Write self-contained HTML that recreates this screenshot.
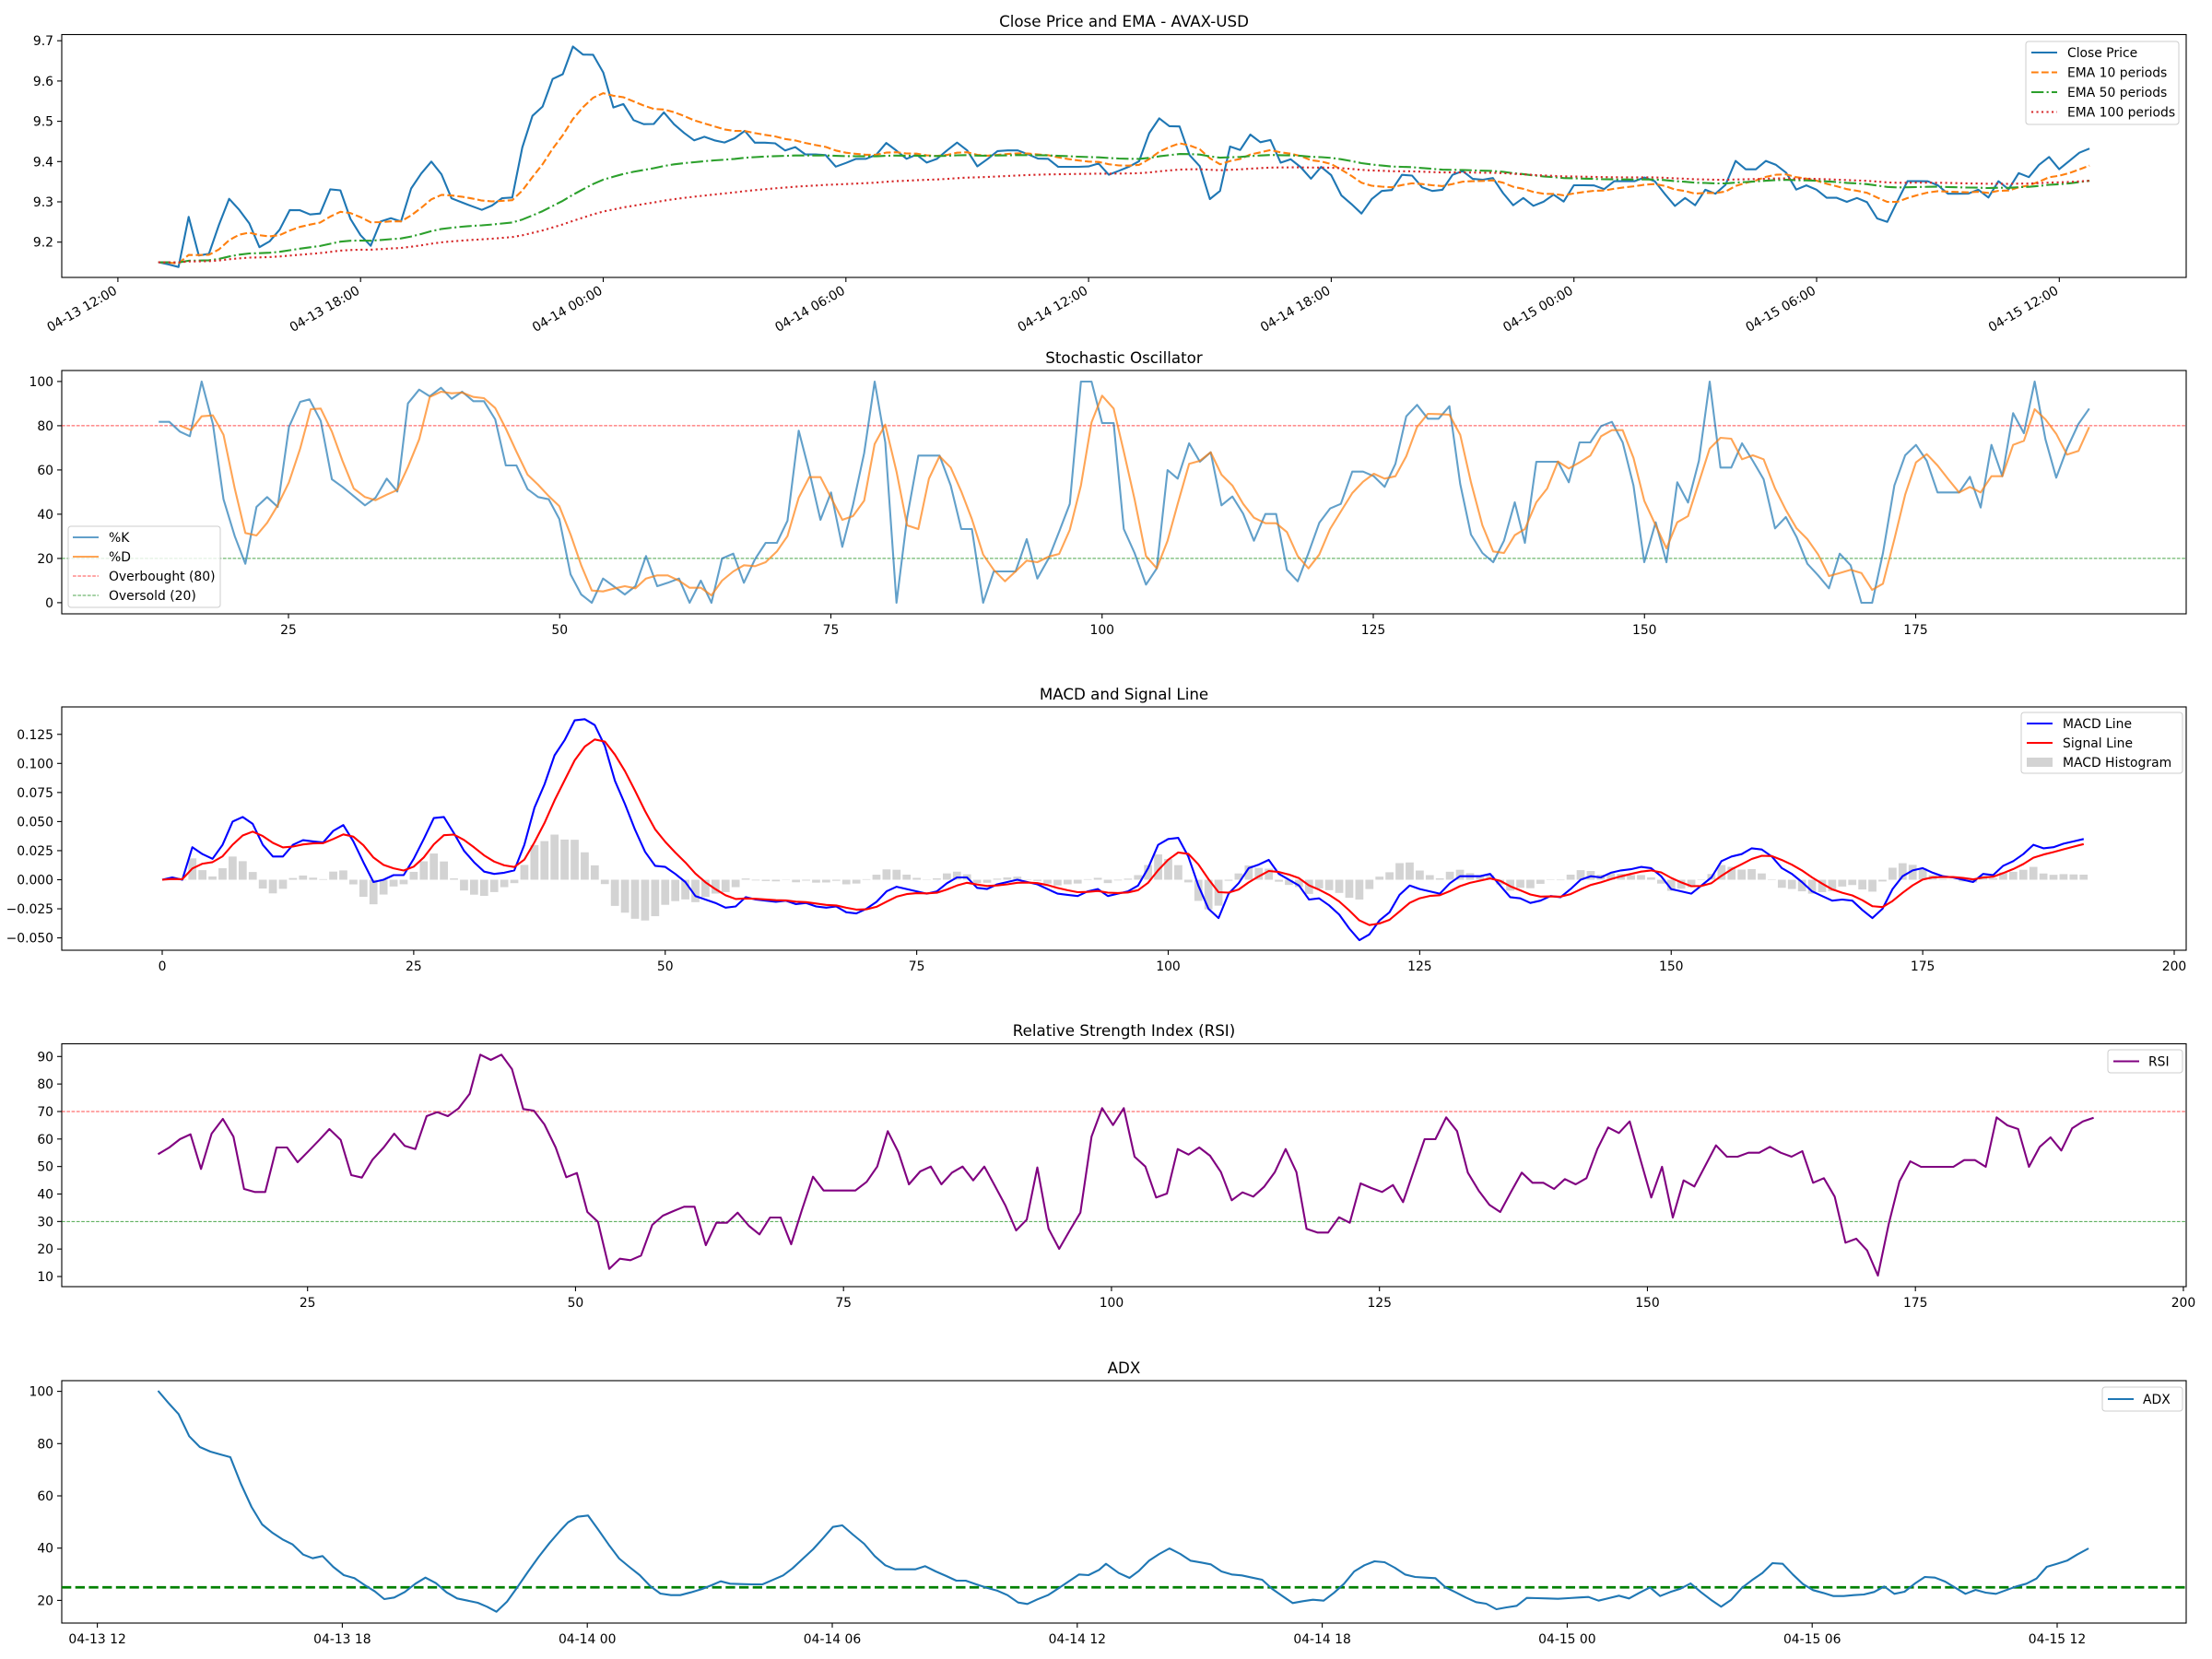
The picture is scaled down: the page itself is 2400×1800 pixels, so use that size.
<!DOCTYPE html>
<html><head><meta charset="utf-8">
<style>
html,body{margin:0;padding:0;background:#fff;}
svg{display:block;font-family:"DejaVu Sans","Liberation Sans",sans-serif;}
</style></head>
<body>
<svg id="s" width="2400" height="1800" viewBox="0 0 2400 1800" xmlns="http://www.w3.org/2000/svg">
<rect width="2400" height="1800" fill="#fff"/>
<g id="g"></g>
<text x="1219.5" y="29" font-size="16.7" text-anchor="middle">Close Price and EMA - AVAX-USD</text>
<text x="1219.5" y="394" font-size="16.7" text-anchor="middle">Stochastic Oscillator</text>
<text x="1219.5" y="759" font-size="16.7" text-anchor="middle">MACD and Signal Line</text>
<text x="1219.5" y="1124" font-size="16.7" text-anchor="middle">Relative Strength Index (RSI)</text>
<text x="1219.5" y="1490" font-size="16.7" text-anchor="middle">ADX</text>
</svg>
<script>
(function(){
var g=document.getElementById('g');var NS='http://www.w3.org/2000/svg';
function el(t,a,txt){var e=document.createElementNS(NS,t);for(var k in a)e.setAttribute(k,a[k]);if(txt!==undefined)e.textContent=txt;g.appendChild(e);return e;}
function pl(pts,c,w,dash,op){var d=pts.map(function(p){return p[0].toFixed(1)+','+p[1].toFixed(1)}).join(' ');var a={points:d,fill:'none',stroke:c,'stroke-width':w,'stroke-linejoin':'round'};if(dash)a['stroke-dasharray']=dash;if(op)a['stroke-opacity']=op;el('polyline',a);}
var L=67,R=2372;
var P=[[37.5,301],[402,666],[767,1031],[1132.5,1396],[1498,1761]];
function ytick(y,lab){el('line',{x1:L-5,x2:L,y1:y,y2:y,stroke:'#000','stroke-width':1.1});el('text',{x:L-9,y:y+5,'font-size':13.9,'text-anchor':'end'},lab);}
function xtick(x,yb,lab){el('line',{x1:x,x2:x,y1:yb,y2:yb+5,stroke:'#000','stroke-width':1.1});el('text',{x:x,y:yb+22,'font-size':13.9,'text-anchor':'middle'},lab);}
function frame(k){el('rect',{x:L,y:P[k][0],width:R-L,height:P[k][1]-P[k][0],fill:'none',stroke:'#000','stroke-width':1.1});}
function hline(y,c,w,dash,op){el('line',{x1:L,x2:R,y1:y,y2:y,stroke:c,'stroke-width':w,'stroke-dasharray':dash,'stroke-opacity':op||1});}
function conv(a,fx,fy){return a.map(function(p){return [fx(p[0]),fy(p[1])];});}
function interp(pts,x){if(x<=pts[0][0])return pts[0][1];for(var i=1;i<pts.length;i++){if(pts[i][0]>=x){var a=pts[i-1],b=pts[i];return a[1]+(b[1]-a[1])*(x-a[0])/(b[0]-a[0]);}}return pts[pts.length-1][1];}
function ema(arr,span){var al=2/(span+1),o=[arr[0]];for(var i=1;i<arr.length;i++)o.push(al*arr[i]+(1-al)*o[i-1]);return o;}

var z1=[[336,853],[357,842],[378,866],[400,684],[421,815],[443,815],[465,720],[486,632],[508,668],[529,708],[551,789],[572,772],[594,735],[615,670],[637,670],[658,684],[680,684],[701,604],[723,604],[744,695],[766,749],[787,789],[808,707],[830,695],[852,710],[873,604],[895,555],[916,513],[938,553],[959,632],[981,645],[1002,657],[1024,670],[1045,657],[1067,632],[1089,632],[1110,474],[1132,370],[1153,343],[1175,252],[1196,240],[1218,148],[1239,174],[1261,174],[1282,227],[1304,343],[1325,330],[1347,383],[1368,396],[1390,396],[1411,357],[1433,396],[1454,423],[1476,448],[1497,436],[1519,448],[1541,461],[1562,448]];
var z6=[[0,360],[12,372],[30,360],[52,333],[72,372],[112,372],[135,398],[153,384],[175,410],[215,410],[237,450],[258,437],[278,424],[300,424],[320,410],[340,371],[360,398],[380,424],[400,410],[420,437],[442,424],[462,397],[483,371],[503,397],[524,450],[545,424],[566,397],[606,397],[627,410],[647,424],[667,424],[687,450],[747,450],[768,437],[790,476],[810,463],[830,450],[850,437],[870,345],[892,293],[913,319],[933,319],[952,410],[972,437],[994,555],[1015,528],[1035,384],[1055,398],[1076,345],[1096,371],[1116,358],[1137,437],[1157,424],[1178,450],[1199,489],[1220,450],[1240,476],[1260,541],[1280,568],[1300,605],[1322,555],[1342,528],[1362,528],[1383,476],[1403,476],[1423,515],[1444,528],[1464,528],[1486,476],[1506,463],[1526,489],[1546,489],[1568,476]];
var z2=[[0,578],[20,578],[38,566],[60,615],[80,657],[103,631],[124,657],[146,644],[167,620],[189,644],[210,591],[253,591],[274,605],[296,578],[340,578],[361,566],[383,578],[404,618],[426,657],[447,631],[468,657],[490,605],[512,618],[533,591],[555,513],[576,540],[598,540],[619,513],[641,526],[662,550],[684,605],[705,591],[727,605],[748,631],[770,631],[791,644],[812,631],[834,644],[856,697],[877,709],[920,578],[963,578],[985,591],[1006,618],[1049,618],[1071,605],[1092,631],[1114,578],[1135,605],[1157,552],[1178,566],[1200,526],[1221,500],[1243,540],[1265,513],[1286,487],[1307,474]];
var a1=conv(z1,function(x){return x/1.96},function(y){return y/2.94});
var a6=conv(z6,function(x){return 780+x/1.867},function(y){return 30+y/2.98});
var a2=conv(z2,function(x){return 1600+x/1.96},function(y){return y/2.94});
var cp=a1.filter(function(p){return p[0]<780}).concat(a6.filter(function(p){return p[0]>=780&&p[0]<1610})).concat(a2.filter(function(p){return p[0]>=1610}));
var N=192,close=[];
function X1(i){return 171.8+10.97*i;}
function Y1(v){return 44.2+(9.7-v)*437;}
for(var i=0;i<N;i++){var y=interp(cp,X1(i));close.push(9.7-(y-44.2)/437);}
close[0]=9.15;
var e10=ema(close,10),e50=ema(close,50),e100=ema(close,100);
function ser(arr,X,Y){return arr.map(function(v,i){return [X(i),Y(v)]});}
frame(0);
[9.2,9.3,9.4,9.5,9.6,9.7].forEach(function(v){ytick(Y1(v),v.toFixed(1));});
var dl=["04-13 12:00","04-13 18:00","04-14 00:00","04-14 06:00","04-14 12:00","04-14 18:00","04-15 00:00","04-15 06:00","04-15 12:00"];
dl.forEach(function(l,k){var x=127.9+k*263.3;el('line',{x1:x,x2:x,y1:301,y2:306,stroke:'#000','stroke-width':1.1});el('text',{x:x,y:318,'font-size':13.9,'text-anchor':'end',transform:'rotate(-30 '+x+' 318)'},l);});
pl(ser(close,X1,Y1),'#1f77b4',2.1);
pl(ser(e10,X1,Y1),'#ff7f0e',2.1,'7.7,3.3');
pl(ser(e50,X1,Y1),'#2ca02c',2.1,'13.3,3.3,2.1,3.3');
pl(ser(e100,X1,Y1),'#d62728',2.1,'2.1,3.4');
el('rect',{x:2198,y:45,width:166,height:90,fill:'#fff','fill-opacity':0.8,stroke:'#ccc','stroke-width':1,rx:3});
var lg1=[['Close Price','#1f77b4',null],['EMA 10 periods','#ff7f0e','7.7,3.3'],['EMA 50 periods','#2ca02c','13.3,3.3,2.1,3.3'],['EMA 100 periods','#d62728','2.1,3.4']];
lg1.forEach(function(e,k){var y=57+k*21.5;var a={x1:2204,x2:2232,y1:y,y2:y,stroke:e[1],'stroke-width':2.1};if(e[2])a['stroke-dasharray']=e[2];el('line',a);el('text',{x:2243,y:y+5,'font-size':13.9},e[0]);});

frame(1);
function Y2(v){return 653.9-2.4*v;}
[0,20,40,60,80,100].forEach(function(v){ytick(Y2(v),''+v);});
[25,50,75,100,125,150,175].forEach(function(t){xtick(313+(t-25)*11.77,666,''+t);});
hline(Y2(80),'#ff0000',1,'3.7,1.6',0.7);hline(Y2(20),'#008000',1,'3.7,1.6',0.7);
var k7=[[18,173],[35,173],[52,205],[68,220],[87,42],[105,180],[122,425],[140,545],[157,635],[175,450],[192,418],[209,450],[227,190],[245,108],[260,100],[278,170],[296,360],[313,385],[331,415],[349,445],[366,420],[384,358],[401,400],[418,113],[436,68],[453,90],[471,62],[488,98],[505,75],[523,106],[540,106],[558,165],[575,315],[592,315],[610,392],[627,418],[644,425],[661,490],[679,670],[696,735],[713,762],[731,683],[748,708],[766,735],[783,708],[800,610],[818,708],[835,697],[853,683],[870,762],[888,690],[905,762],[922,618],[940,602],[957,697],[975,620],[992,567],[1010,567],[1027,495],[1045,202],[1062,335],[1080,492],[1097,403],[1115,580],[1132,445],[1150,275],[1167,42],[1184,240],[1202,762],[1219,485],[1237,283],[1254,283],[1271,283],[1289,380],[1306,522],[1323,522],[1341,762],[1358,660],[1376,660],[1393,660],[1411,555],[1428,683],[1446,618],[1463,530],[1480,440],[1498,42],[1515,42],[1532,177]];
var k8=[[12,177],[28,522],[45,600],[63,703],[80,650],[97,330],[113,358],[131,243],[148,303],[165,272],[182,445],[199,416],[216,472],[233,560],[251,473],[268,473],[285,655],[302,692],[319,600],[336,502],[353,455],[370,440],[388,335],[405,335],[422,350],[439,385],[456,310],[473,155],[490,118],[507,163],[524,163],[541,122],[558,375],[575,540],[593,600],[610,630],[627,560],[644,435],[660,567],[678,303],[695,303],[712,303],[729,370],[746,240],[763,240],[780,187],[797,173],[814,240],[831,380],[848,630],[866,500],[883,630],[900,370],[917,436],[934,300],[951,42],[968,322],[985,322],[1002,243],[1019,300],[1036,360],[1054,520],[1071,483],[1088,548],[1105,635],[1122,673],[1139,715],[1156,602],[1173,640],[1190,762],[1207,762],[1224,600],[1242,380],[1259,282],[1276,248],[1293,300],[1310,403],[1327,403],[1344,403],[1361,352],[1378,452],[1395,248],[1412,350],[1429,145],[1446,210],[1463,42],[1480,230],[1497,355],[1514,260],[1532,180],[1549,130]];
var d7=[[52,185],[70,200],[87,155],[105,152],[122,215],[140,390],[157,535],[175,543],[192,502],[209,445],[227,370],[245,260],[262,132],[278,130],[296,205],[313,300],[331,390],[349,418],[366,428],[384,410],[401,395],[418,320],[436,230],[453,92],[471,75],[488,80],[505,78],[523,92],[540,96],[558,128],[575,195],[592,270],[610,345],[627,378],[644,415],[661,448],[679,540],[696,640],[713,722],[731,725],[748,716],[766,708],[783,715],[800,683],[818,673],[835,673],[853,690],[870,713],[888,713],[905,738],[922,690],[940,660],[957,640],[975,643],[992,630],[1010,595],[1027,545],[1045,420],[1062,353],[1080,353],[1097,420],[1115,492],[1132,480],[1150,430],[1167,245],[1184,182],[1202,335],[1219,510],[1237,522],[1254,358],[1271,285],[1289,322],[1306,400],[1323,490],[1341,605],[1358,655],[1376,692],[1393,660],[1411,625],[1428,630],[1446,612],[1463,603],[1480,525],[1498,380],[1515,175],[1532,88]];
var d8=[[12,130],[28,270],[45,425],[63,610],[80,650],[97,560],[113,440],[131,310],[148,300],[165,272],[182,345],[199,380],[216,440],[233,485],[251,503],[268,503],[285,532],[302,610],[319,650],[336,605],[353,522],[370,465],[388,405],[405,368],[422,342],[439,358],[456,350],[473,285],[490,190],[507,147],[524,148],[541,150],[558,215],[575,370],[593,510],[610,595],[627,600],[644,542],[660,522],[678,435],[695,390],[712,302],[729,325],[746,305],[763,283],[780,220],[797,200],[814,200],[831,290],[848,430],[866,510],[883,585],[900,500],[917,480],[934,370],[951,260],[968,225],[985,228],[1002,295],[1019,282],[1036,295],[1054,390],[1071,460],[1088,520],[1105,555],[1122,605],[1139,675],[1156,665],[1173,655],[1190,665],[1207,720],[1224,700],[1242,555],[1259,410],[1276,305],[1293,278],[1310,315],[1327,360],[1344,403],[1361,385],[1378,403],[1395,350],[1412,350],[1429,248],[1446,235],[1463,132],[1480,165],[1497,212],[1514,280],[1532,268],[1549,190]];
function c7(a){return conv(a,function(x){return 160+x/1.479},function(y){return 400+y/3});}
function c8(a){return conv(a,function(x){return 1200+x/1.452},function(y){return 400+y/3});}
pl(c7(k7).concat(c8(k8)),'#1f77b4',2.1,null,0.7);
pl(c7(d7).concat(c8(d8)),'#ff7f0e',2.1,null,0.7);
el('rect',{x:74,y:571,width:165,height:88,fill:'#fff','fill-opacity':0.8,stroke:'#ccc','stroke-width':1,rx:3});
var lg2=[['%K','#1f77b4',2.1,null,0.7],['%D','#ff7f0e',2.1,null,0.7],['Overbought (80)','#ff0000',1,'3.7,1.6',0.7],['Oversold (20)','#008000',1,'3.7,1.6',0.7]];
lg2.forEach(function(e,k){var y=583+k*21;var a={x1:79,x2:107,y1:y,y2:y,stroke:e[1],'stroke-width':e[2],'stroke-opacity':e[4]};if(e[3])a['stroke-dasharray']=e[3];el('line',a);el('text',{x:118,y:y+5,'font-size':13.9},e[0]);});

frame(2);
function X3(i){return 176+10.915*i;}
function Y3(v){return 954.5-1262*v;}
[-0.05,-0.025,0,0.025,0.05,0.075,0.1,0.125].forEach(function(v){ytick(Y3(v),(v<0?'\u22120':'0')+'.'+Math.abs(v).toFixed(3).split('.')[1]);});
[0,25,50,75,100,125,150,175,200].forEach(function(t){xtick(X3(t),1031,''+t);});
var macd=[0,0.002,0,0.028,0.022,0.018,0.03,0.05,0.054,0.048,0.03,0.02,0.02,0.03,0.034,0.033,0.032,0.042,0.047,0.033,0.015,-0.002,0,0.004,0.004,0.018,0.035,0.053,0.054,0.04,0.025,0.015,0.007,0.005,0.006,0.008,0.03,0.062,0.082,0.107,0.12,0.137,0.138,0.133,0.115,0.085,0.065,0.043,0.024,0.012,0.011,0.005,-0.002,-0.014,-0.017,-0.02,-0.024,-0.023,-0.015,-0.017,-0.018,-0.019,-0.018,-0.021,-0.02,-0.023,-0.024,-0.023,-0.028,-0.029,-0.025,-0.019,-0.01,-0.006,-0.008,-0.01,-0.012,-0.01,-0.003,0.002,0.002,-0.007,-0.008,-0.004,-0.002,0,-0.002,-0.004,-0.008,-0.012,-0.013,-0.014,-0.01,-0.008,-0.014,-0.012,-0.01,-0.005,0.01,0.03,0.035,0.036,0.02,-0.005,-0.025,-0.033,-0.012,-0.003,0.01,0.013,0.017,0.005,0,-0.005,-0.017,-0.016,-0.022,-0.03,-0.042,-0.052,-0.047,-0.035,-0.028,-0.013,-0.005,-0.008,-0.01,-0.012,-0.003,0.003,0.003,0.003,0.005,-0.005,-0.015,-0.016,-0.02,-0.018,-0.014,-0.015,-0.008,0,0.003,0.002,0.006,0.008,0.009,0.011,0.01,0.003,-0.008,-0.01,-0.012,-0.005,0.002,0.016,0.02,0.022,0.027,0.026,0.02,0.01,0.005,-0.002,-0.01,-0.014,-0.018,-0.017,-0.018,-0.026,-0.033,-0.025,-0.008,0.003,0.008,0.01,0.006,0.003,0.002,0,-0.002,0.005,0.004,0.012,0.016,0.022,0.03,0.027,0.028,0.031,0.033,0.035];
var sig=ema(macd,5);
for(var i=0;i<macd.length;i++){var h=macd[i]-sig[i];var y0=Y3(0),y1=Y3(h);el('rect',{x:X3(i-0.4),y:Math.min(y0,y1),width:0.8*10.915,height:Math.abs(y1-y0),fill:'#d3d3d3'});}
pl(ser(macd,X3,Y3),'#0000ff',2.1);
pl(ser(sig,X3,Y3),'#ff0000',2.1);
el('rect',{x:2193,y:773,width:175,height:66,fill:'#fff','fill-opacity':0.8,stroke:'#ccc','stroke-width':1,rx:3});
el('line',{x1:2199,x2:2227,y1:785,y2:785,stroke:'#0000ff','stroke-width':2.1});el('text',{x:2238,y:790,'font-size':13.9},'MACD Line');
el('line',{x1:2199,x2:2227,y1:806,y2:806,stroke:'#ff0000','stroke-width':2.1});el('text',{x:2238,y:811,'font-size':13.9},'Signal Line');
el('rect',{x:2199,y:822,width:28,height:10,fill:'#d3d3d3'});el('text',{x:2238,y:832,'font-size':13.9},'MACD Histogram');

frame(3);
function Y4(v){return 1146.3+(90-v)*2.984;}
[10,20,30,40,50,60,70,80,90].forEach(function(v){ytick(Y4(v),''+v);});
[25,50,75,100,125,150,175,200].forEach(function(t){xtick(333.7+(t-25)*11.63,1396,''+t);});
hline(Y4(70),'#ff0000',1,'3.7,1.6',0.7);hline(Y4(30),'#008000',1,'3.7,1.6',0.7);
var r9=[[17,352],[35,330],[52,303],[69,287],[86,400],[103,285],[121,237],[138,295],[155,465],[172,475],[189,475],[207,330],[224,330],[241,378],[258,343],[276,305],[292,270],[310,305],[327,420],[344,428],[361,370],[379,330],[396,285],[413,325],[430,335],[448,228],[465,215],[482,228],[499,203],[517,155],[534,28],[551,45],[568,28],[585,75],[603,205],[620,210],[637,255],[655,330],[672,427],[689,413],[706,540],[723,572],[741,725],[758,692],[775,697],[792,682],[810,582],[827,552],[844,537],[861,523],[878,523],[896,648],[913,575],[930,575],[947,542],[965,585],[982,613],[999,558],[1016,558],[1033,645],[1050,535],[1068,425],[1085,470],[1102,470],[1119,470],[1136,470],[1154,442],[1171,392],[1188,277],[1205,345],[1222,450],[1240,408],[1257,392],[1274,450],[1291,412],[1308,392],[1325,437],[1343,392],[1360,455],[1377,520],[1394,600],[1411,565],[1428,395],[1446,595],[1463,660],[1480,600],[1497,542],[1515,295],[1532,202]];
var r10=[[11,257],[28,202],[45,360],[62,392],[79,493],[96,480],[113,335],[130,353],[147,330],[164,357],[181,410],[198,502],[215,476],[232,490],[249,458],[266,410],[283,335],[300,410],[316,595],[333,607],[350,607],[367,557],[384,575],[401,447],[418,462],[435,475],[452,452],[468,508],[485,405],[502,303],[519,303],[536,232],[553,277],[570,412],[587,470],[604,517],[621,540],[638,475],[655,412],[672,445],[689,445],[706,465],[723,433],[740,450],[757,430],[774,335],[791,265],[808,283],[825,245],[842,370],[859,493],[876,393],[893,558],[910,437],[927,457],[944,390],[961,323],[978,360],[995,360],[1012,347],[1029,347],[1046,328],[1063,347],[1080,360],[1097,342],[1114,445],[1131,430],[1148,490],[1165,640],[1182,627],[1199,665],[1216,747],[1233,580],[1250,440],[1267,375],[1284,393],[1301,393],[1318,393],[1335,393],[1352,371],[1369,371],[1386,393],[1403,232],[1420,258],[1437,270],[1454,393],[1471,328],[1488,297],[1505,340],[1522,268],[1539,245],[1556,233]];
pl(conv(r9,function(x){return 160+x/1.479},function(y){return 1135+y/3}).concat(conv(r10,function(x){return 1200+x/1.452},function(y){return 1135+y/3})),'#800080',2.1);
el('rect',{x:2287,y:1139,width:81,height:25,fill:'#fff','fill-opacity':0.8,stroke:'#ccc','stroke-width':1,rx:3});
el('line',{x1:2293,x2:2321,y1:1151.5,y2:1151.5,stroke:'#800080','stroke-width':2.1});el('text',{x:2331,y:1156.5,'font-size':13.9},'RSI');

frame(4);
function Y5(v){return 1509.6+(100-v)*2.835;}
[20,40,60,80,100].forEach(function(v){ytick(Y5(v),''+v);});
["04-13 12","04-13 18","04-14 00","04-14 06","04-14 12","04-14 18","04-15 00","04-15 06","04-15 12"].forEach(function(l,k){xtick(105.6+k*265.8,1761,l);});
var q11=[[17,27],[33,65],[50,103],[67,175],[84,210],[101,225],[118,235],[133,243],[150,330],[167,405],[184,462],[201,490],[218,512],[233,527],[250,560],[265,572],[281,565],[298,600],[315,627],[332,637],[349,660],[365,680],[380,705],[396,700],[413,682],[430,655],[446,635],[463,653],[480,683],[497,703],[514,710],[530,717],[545,730],[560,746],[577,713],[594,665],[611,615],[628,567],[645,523],[662,483],[675,455],[690,437],[707,433],[723,478],[740,527],[757,573],[773,600],[790,627],[807,663],[823,687],[840,692],[855,692],[872,683],[889,673],[905,660],[920,647],[935,655],[952,656],[970,657],[987,657],[1003,643],[1020,628],[1035,605],[1052,573],[1068,543],[1085,505],[1100,470],[1115,465],[1132,495],[1150,525],[1167,565],[1184,595],[1200,608],[1217,608],[1232,608],[1248,598],[1265,615],[1282,630],[1298,645],[1313,645],[1330,657],[1347,668],[1363,677],[1380,692],[1397,716],[1412,721],[1428,706],[1445,692],[1462,670],[1478,648],[1495,625],[1510,627],[1527,610]];
var q12=[[0,590],[20,620],[37,636],[52,613],[68,580],[84,558],[100,540],[117,558],[133,580],[150,586],[165,592],[182,615],[198,625],[214,628],[230,635],[246,642],[262,672],[278,695],[294,718],[310,712],[326,707],[343,710],[359,685],[375,655],[391,615],[407,595],[423,582],[439,585],[455,603],[471,625],[487,633],[503,635],[519,637],[535,667],[551,683],[567,700],[583,715],[599,720],[615,738],[631,732],[647,727],[663,701],[680,702],[696,703],[712,704],[728,702],[744,700],[760,698],[776,710],[792,702],[808,694],[824,703],[840,685],[857,667],[873,695],[889,682],[905,671],[921,654],[937,682],[953,707],[969,730],[985,707],[1002,668],[1018,643],[1034,620],[1050,588],[1066,590],[1082,625],[1098,656],[1114,676],[1130,685],[1146,695],[1162,695],[1178,692],[1194,690],[1210,682],[1226,664],[1242,688],[1258,681],[1274,655],[1290,633],[1306,635],[1322,648],[1338,668],[1354,688],[1370,675],[1386,684],[1402,688],[1418,676],[1434,664],[1450,655],[1466,638],[1482,600],[1498,590],[1514,580],[1530,560],[1548,540]];
hline(Y5(25),'#008000',2.8,'10.3,4.4',1);
pl(conv(q11,function(x){return 160+x/1.479},function(y){return 1500+y/3}).concat(conv(q12,function(x){return 1200+x/1.452},function(y){return 1500+y/3})),'#1f77b4',2.1);
el('rect',{x:2281,y:1505,width:87,height:26,fill:'#fff','fill-opacity':0.8,stroke:'#ccc','stroke-width':1,rx:3});
el('line',{x1:2287,x2:2315,y1:1518,y2:1518,stroke:'#1f77b4','stroke-width':2.1});el('text',{x:2325,y:1523,'font-size':13.9},'ADX');
})();
</script>
</body></html>
